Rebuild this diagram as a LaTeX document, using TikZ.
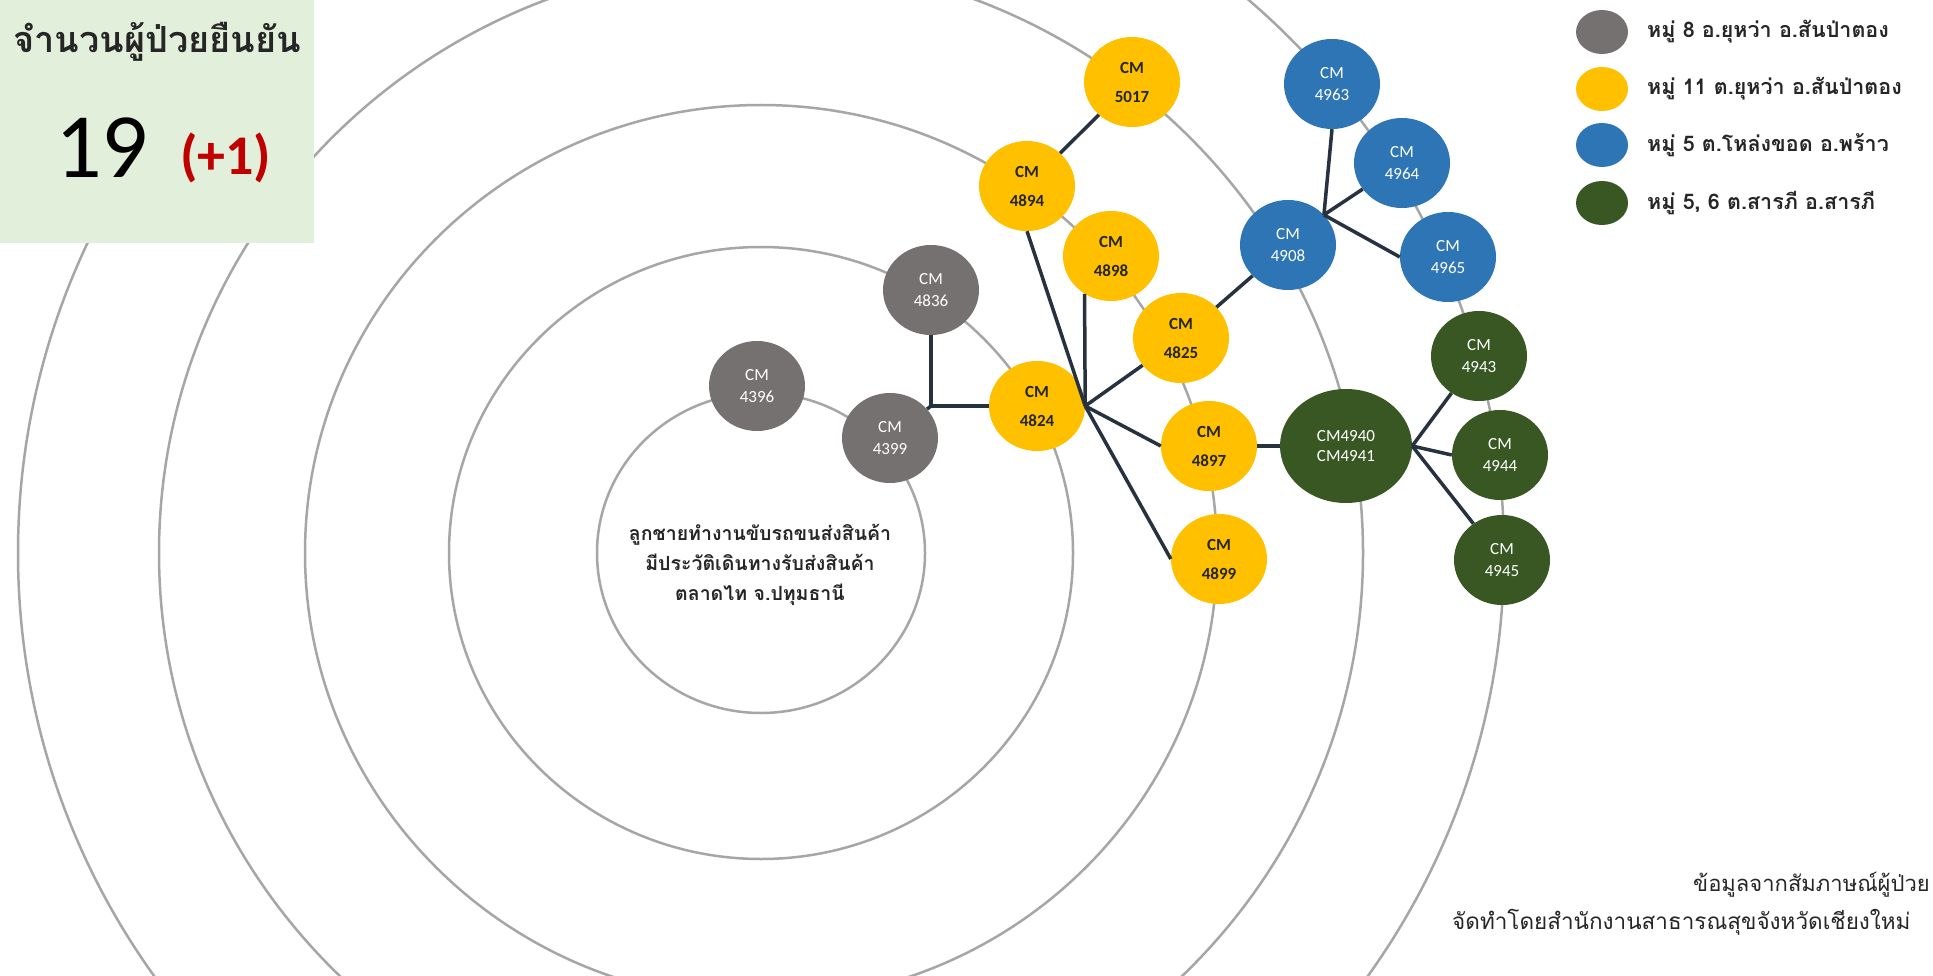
\documentclass[tikz,border=0pt]{standalone}
\usepackage{fontspec}
\setmainfont{Carlito}
\newfontfamily\thai[Script=Thai]{Loma}
\usetikzlibrary{shapes.geometric}
\definecolor{ringc}{HTML}{A6A6A6}
\definecolor{clink}{HTML}{26323F}
\definecolor{cgray}{HTML}{767171}
\definecolor{cyell}{HTML}{FFC000}
\definecolor{cblue}{HTML}{2E75B6}
\definecolor{cgreen}{HTML}{385723}
\definecolor{cbox}{HTML}{E2EFDA}
\definecolor{cred}{HTML}{C00000}
\definecolor{cdark}{HTML}{262626}
\tikzset{
  pnode/.style={ellipse, minimum width=96pt, minimum height=90pt, inner sep=0pt, align=center, font=\fontsize{17}{22}\selectfont},
  grayn/.style={pnode, fill=cgray, text=white},
  yelln/.style={pnode, fill=cyell, text=cdark, font=\fontsize{17}{29}\selectfont\bfseries},
  bluen/.style={pnode, fill=cblue, text=white},
  greenn/.style={pnode, fill=cgreen, text=white},
  link/.style={draw=clink, line width=3.5pt},
  ring/.style={draw=ringc, line width=2.5pt},
  legdot/.style={ellipse, minimum width=52pt, minimum height=44pt, inner sep=0pt},
  legtxt/.style={anchor=west, inner sep=0pt, font=\thai\bfseries\fontsize{21.5}{24}\selectfont, text=cdark}
}
\begin{document}
\begin{tikzpicture}[x=1pt,y=-1pt]
\useasboundingbox (0,0) rectangle (1933,976);
\clip (0,0) rectangle (1933,976);
\fill[white] (0,0) rectangle (1933,976);
% rings
\coordinate (C) at (761,553);
\draw[ring] (C) ellipse [x radius=164pt, y radius=160pt];
\draw[ring] (C) ellipse [x radius=312pt, y radius=306pt];
\draw[ring] (C) ellipse [x radius=456pt, y radius=448pt];
\draw[ring] (C) ellipse [x radius=602pt, y radius=592pt];
\draw[ring] (C) ellipse [x radius=743pt, y radius=733pt];
% count box
\fill[cbox] (0,0) rectangle (314,243);
\node[font=\thai\bfseries\fontsize{36}{40}\selectfont, text=cdark] (title) at (157,42) {จำนวนผู้ป่วยยืนยัน};
\node[anchor=base west, inner sep=0pt, font=\fontsize{92}{92}\selectfont, text=black] (num) at (55,178) {19};
\node[anchor=base west, inner sep=0pt, font=\bfseries\fontsize{56}{56}\selectfont, text=cred] (plus) at (180,175) {(+1)};
% center text
\node[align=center, font=\thai\bfseries\fontsize{19.5}{30}\selectfont, text=cdark] (origin) at (760,565) {ลูกชายทำงานขับรถขนส่งสินค้า\\มีประวัติเดินทางรับส่งสินค้า\\ตลาดไท จ.ปทุมธานี};
% nodes
\node[grayn] (n4396) at (757,386) {CM\\4396};
\node[grayn] (n4399) at (890,438) {CM\\4399};
\node[grayn] (n4836) at (931,290) {CM\\4836};
\node[yelln] (n4824) at (1037,406) {CM\\4824};
\node[yelln] (n4894) at (1027,186) {CM\\4894};
\node[yelln] (n5017) at (1132,82) {CM\\5017};
\node[yelln] (n4898) at (1111,256) {CM\\4898};
\node[yelln] (n4825) at (1181,338) {CM\\4825};
\node[yelln] (n4897) at (1209,446) {CM\\4897};
\node[yelln] (n4899) at (1219,559) {CM\\4899};
\node[bluen] (n4908) at (1288,245) {CM\\4908};
\node[bluen] (n4963) at (1332,84) {CM\\4963};
\node[bluen] (n4964) at (1402,163) {CM\\4964};
\node[bluen] (n4965) at (1448,257) {CM\\4965};
\node[greenn, minimum width=132pt, minimum height=114pt, font=\fontsize{17}{20}\selectfont] (n4940) at (1346,446) {CM4940\\CM4941};
\node[greenn] (n4943) at (1479,356) {CM\\4943};
\node[greenn] (n4944) at (1500,455) {CM\\4944};
\node[greenn] (n4945) at (1502,560) {CM\\4945};
% junctions
\coordinate (J0) at (n4836 |- n4824);
\coordinate (J1) at (n4824.east);
\coordinate (J2) at (n4908.40);
\coordinate (J3) at (n4940.east);
% links
\draw[link] (n4836) |- (n4824);
\draw[link] (n4399) -- (J0);
\draw[link] (J1) -- (n4894.south);
\draw[link] (J1) -- (n4898.235);
\draw[link] (J1) -- (n4825);
\draw[link] (J1) -- (n4897.west);
\draw[link] (J1) -- (n4899.west);
\draw[link] (n4894) -- (n5017);
\draw[link] (n4825) -- (n4908);
\draw[link] (n4897) -- (n4940);
\draw[link] (J2) -- (n4963.south);
\draw[link] (J2) -- (n4964);
\draw[link] (J2) -- (n4965.west);
\draw[link] (J3) -- (n4943);
\draw[link] (J3) -- (n4944.west);
\draw[link] (J3) -- (n4945);
% legend
\node[legdot, fill=cgray] (lg1) at (1602,32) {};
\node[legdot, fill=cyell] (lg2) at (1602,89) {};
\node[legdot, fill=cblue] (lg3) at (1602,145) {};
\node[legdot, fill=cgreen] (lg4) at (1602,203) {};
\node[legtxt] (lt1) at (1647,32) {หมู่ 8 อ.ยุหว่า อ.สันป่าตอง};
\node[legtxt] (lt2) at (1647,89) {หมู่ 11 ต.ยุหว่า อ.สันป่าตอง};
\node[legtxt] (lt3) at (1647,145) {หมู่ 5 ต.โหล่งขอด อ.พร้าว};
\node[legtxt] (lt4) at (1647,203) {หมู่ 5, 6 ต.สารภี อ.สารภี};
% footer
\node[anchor=east, inner sep=0pt, font=\thai\fontsize{22}{26}\selectfont, text=cdark] (f1) at (1930,885) {ข้อมูลจากสัมภาษณ์ผู้ป่วย};
\node[anchor=west, inner sep=0pt, font=\thai\fontsize{22.5}{26}\selectfont, text=cdark] (f2) at (1452,922) {จัดทำโดยสำนักงานสาธารณสุขจังหวัดเชียงใหม่};
\end{tikzpicture}
\end{document}
